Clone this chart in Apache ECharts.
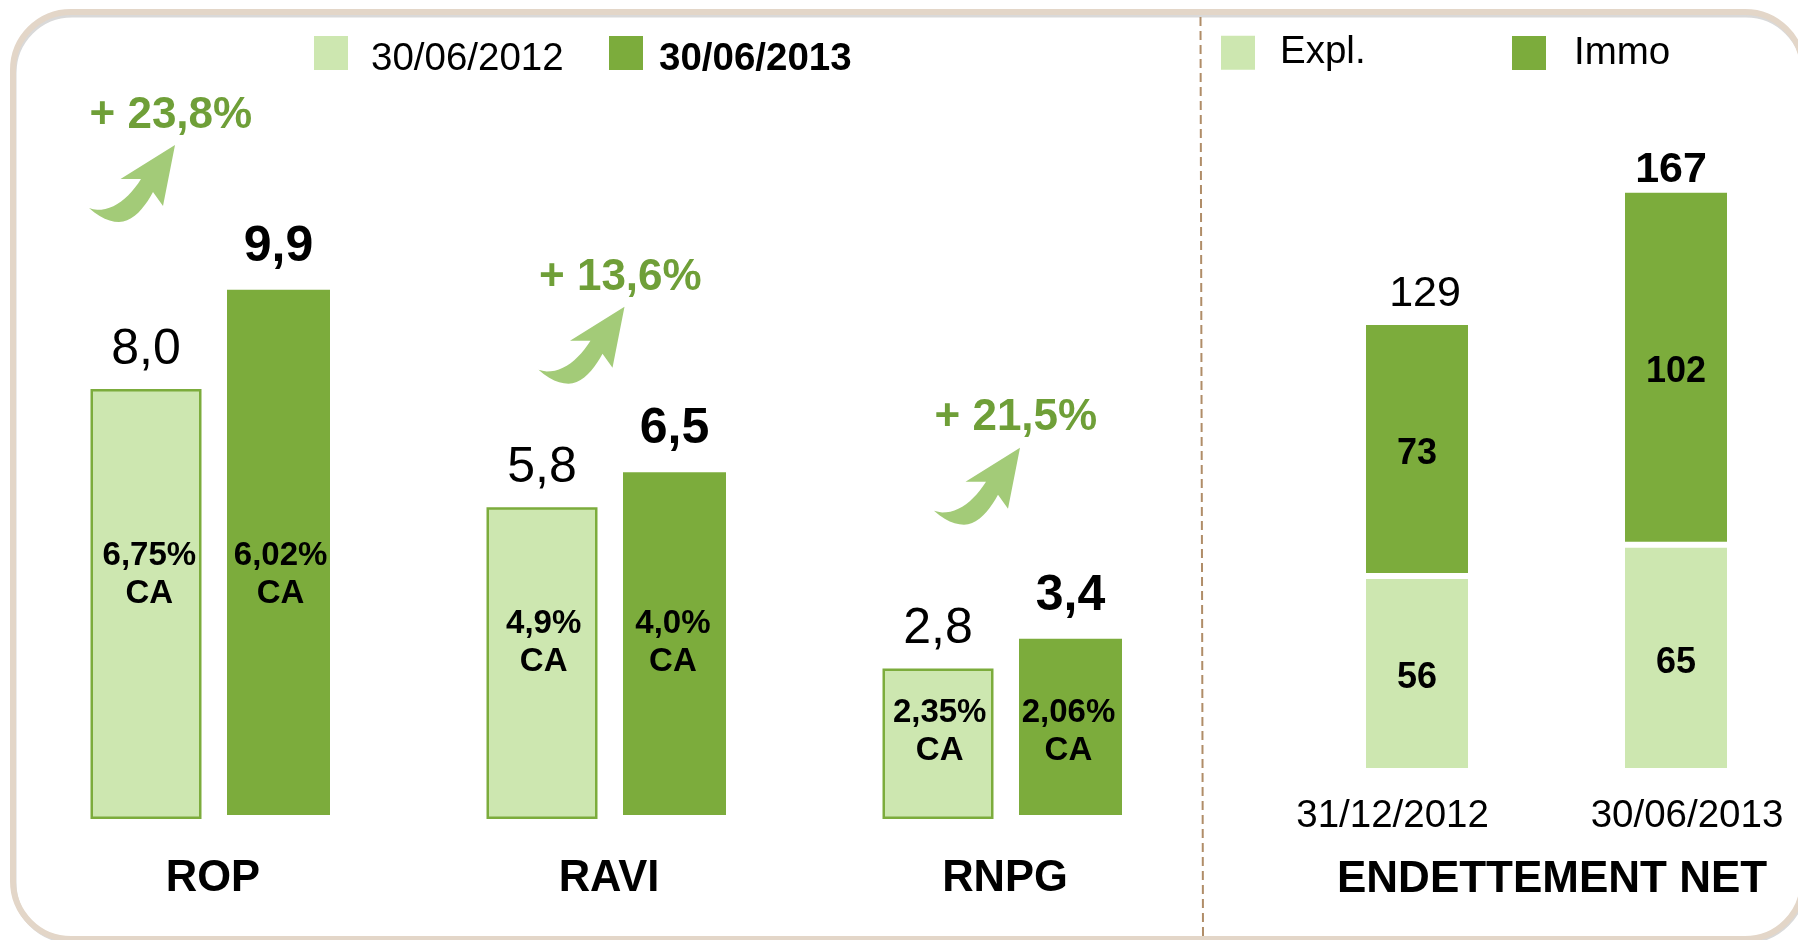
<!DOCTYPE html>
<html><head><meta charset="utf-8">
<style>html,body{margin:0;padding:0;background:#fff}#c{width:1798px;height:940px}</style>
<script src="https://cdn.jsdelivr.net/npm/echarts@6/dist/echarts.min.js"></script>
</head><body><div id="c"></div>
<script>
const categories = ['ROP','RAVI','RNPG'];
const values2012 = [8.0,5.8,2.8];
const values2013 = [9.9,6.5,3.4];
const ratio2012 = ['6,75%','4,9%','2,35%'];
const ratio2013 = ['6,02%','4,0%','2,06%'];
const growth = ['+ 23,8%','+ 13,6%','+ 21,5%'];
const debtDates = ['31/12/2012','30/06/2013'];
const debtExpl = [56,65];
const debtImmo = [73,102];
const debtTotal = [129,167];

const LIGHT='#cde7b0', DARK='#7cac3c', GREEN='#6f9f38', ARROW='#a3cb78';
const FONT='"Liberation Sans", Arial, sans-serif';
const fmt = v => v.toFixed(1).replace('.',',');

// label position inside each bar (% of bar size)
const ratioX2012=['53%','51.5%','51.5%'], ratioX2013=['52%','48.5%','48%'];
const ratioY2012=['43.3%','43.5%','42.3%'], ratioY2013=['54.3%','49.8%','52.6%'];

const hiddenX = (gridIndex,data,boundaryGap)=>({type:'category',gridIndex,data,boundaryGap,show:false});
const hiddenY = (gridIndex,min,max)=>({type:'value',gridIndex,min,max,show:false});
const labelX = (gridIndex,data,fontSize,fontWeight,margin,boundaryGap)=>({type:'category',gridIndex,data,boundaryGap,
  axisLine:{show:false},axisTick:{show:false},splitLine:{show:false},
  axisLabel:{color:'#000',fontFamily:FONT,fontSize,fontWeight,margin,interval:0}});

const ratioSeries=(name,color,border,vals,ratios,px,py,width,xi,clip)=>({
  name,type:'bar',xAxisIndex:xi,yAxisIndex:xi,barWidth:width,z:2,clip,
  itemStyle:{color,borderColor:border,borderWidth:border===color?0:2.5},
  data:vals.map((v,i)=>({value:v,label:{show:true,position:[px[i],py[i]],align:'center',verticalAlign:'middle',
     formatter:ratios[i]+'\nCA',fontFamily:FONT,fontSize:33,fontWeight:'bold',lineHeight:38,color:'#000'}}))
});
const topSeries=(vals,xi,weight,distance)=>({
  type:'scatter',xAxisIndex:xi,yAxisIndex:xi,symbolSize:0,silent:true,z:3,clip:false,
  itemStyle:{opacity:1},
  data:vals,label:{show:true,position:'top',distance,formatter:p=>fmt(p.value),
     fontFamily:FONT,fontSize:50,fontWeight:weight,color:'#000'}
});

// Decorative curved arrow outline, flattened for a polygon
function bez(p0,p1,p2,p3,n){const o=[];for(let k=1;k<=n;k++){const t=k/n,u=1-t;
  o.push([u*u*u*p0[0]+3*u*u*t*p1[0]+3*u*t*t*p2[0]+t*t*t*p3[0],u*u*u*p0[1]+3*u*u*t*p1[1]+3*u*t*t*p2[1]+t*t*t*p3[1]]);}return o;}
const arrowPts=[[175,145],[120.5,179],[141,179],
  ...bez([141,179],[128,200],[108,215],[89,208],14),
  ...bez([89,208],[100,218],[110,222],[119,222],6),
  ...bez([119,222],[133,222],[145,207],[153,192],10),
  [163,206]];
const arrowShift=[[0,0],[449.5,161.7],[845,302.7]];
const growthPos=[[89.5,116],[539,278],[934.5,418]];

const graphics=[
  {type:'rect',silent:true,z:-2,shape:{x:14,y:15,width:1790,height:926,r:58},style:{fill:'none',stroke:'#d9d9d9',lineWidth:5}},
  {type:'rect',silent:true,z:-1,shape:{x:13,y:12,width:1790,height:927,r:58},style:{fill:'none',stroke:'#e3d6c8',lineWidth:6}},
  {type:'line',silent:true,z:0,shape:{x1:1200.5,y1:17,x2:1203,y2:936},style:{stroke:'#b08d68',lineWidth:2,lineDash:[9,5]}},
  ...arrowShift.map(s=>({type:'polygon',silent:true,x:s[0],y:s[1],shape:{points:arrowPts},style:{fill:ARROW}})),
  ...growth.map((t,i)=>({type:'text',silent:true,x:growthPos[i][0],y:growthPos[i][1],
     style:{text:t,fill:GREEN,font:'bold 44px '+FONT,textVerticalAlign:'middle',textAlign:'left'}}))
];

const legendOf=(name,left,top,textPad,bold,iconH)=>({
  data:[{name,icon:iconH?`path://M0 0H34V34H0Z M0 ${iconH}L0 ${iconH}Z`:'rect'}],
  left,top,padding:0,itemWidth:34,itemHeight:iconH||34,itemGap:0,selectedMode:false,
  itemStyle:{borderWidth:0},
  textStyle:{color:'#000',fontFamily:FONT,fontSize:38.5,fontWeight:bold?'bold':'normal',padding:textPad,lineHeight:44}
});

const inner={show:true,position:'inside',offset:[0,5],fontFamily:FONT,fontSize:36,fontWeight:'bold',color:'#000'};

const option={
  animation:false,backgroundColor:'#fff',
  title:{text:'ENDETTEMENT NET',left:1337,top:858,padding:0,
    textStyle:{fontFamily:FONT,fontSize:44,fontWeight:'bold',color:'#000'}},
  legend:[
    legendOf('30/06/2012',314,36,[0,0,0,18],false,47.6),
    legendOf('30/06/2013',609,36,[0,0,0,11],true,47.6),
    legendOf('Expl.',1221,30,[1.4,0,0,20]),
    legendOf('Immo',1512,28,[6,0,0,23])
  ],
  grid:[
    {left:146,width:792,top:174,height:645},     // 2012 bars
    {left:80.5,width:1188,top:170.5,height:644.5}, // 2013 bars
    {left:15,width:1188,top:100,height:720},     // category names
    {left:1417,width:259,top:100,height:671},    // debt stacks
    {left:1392.6,width:294.4,top:100,height:678} // debt dates
  ],
  xAxis:[
    hiddenX(0,categories,false),hiddenX(1,categories,true),
    labelX(2,categories,43.5,'bold',37,true),
    hiddenX(3,debtDates,false),
    labelX(4,debtDates,38.5,'normal',18.6,false)
  ],
  yAxis:[
    hiddenY(0,0,12),hiddenY(1,0.12,12.12),hiddenY(2,0,1),hiddenY(3,0,671/3.48),hiddenY(4,0,1)
  ],
  series:[
    ratioSeries('30/06/2012',LIGHT,DARK,values2012,ratio2012,ratioX2012,ratioY2012,111,0,false),
    topSeries(values2012,0,'normal',14),
    ratioSeries('30/06/2013',DARK,DARK,values2013,ratio2013,ratioX2013,ratioY2013,103,1,true),
    topSeries(values2013,1,'bold',18),
    {name:'Expl.',type:'bar',stack:'d',xAxisIndex:3,yAxisIndex:3,barWidth:108,clip:false,
      itemStyle:{color:LIGHT,borderColor:'#fff',borderWidth:3},data:debtExpl,label:inner},
    {name:'Immo',type:'bar',stack:'d',xAxisIndex:3,yAxisIndex:3,barWidth:108,clip:false,
      itemStyle:{color:DARK,borderColor:'#fff',borderWidth:3},data:debtImmo,label:inner},
    {type:'scatter',xAxisIndex:3,yAxisIndex:3,symbolSize:0,silent:true,z:3,clip:false,itemStyle:{opacity:1},
      data:debtTotal.map((v,i)=>({value:v,label:{offset:i?[-5,8]:[8,0],fontWeight:i?'bold':'normal'}})),
      label:{show:true,position:'top',distance:6,fontFamily:FONT,fontSize:43,color:'#000'}}
  ],
  graphic:graphics
};
const chart=echarts.init(document.getElementById('c'));
chart.setOption(option);
</script></body></html>
